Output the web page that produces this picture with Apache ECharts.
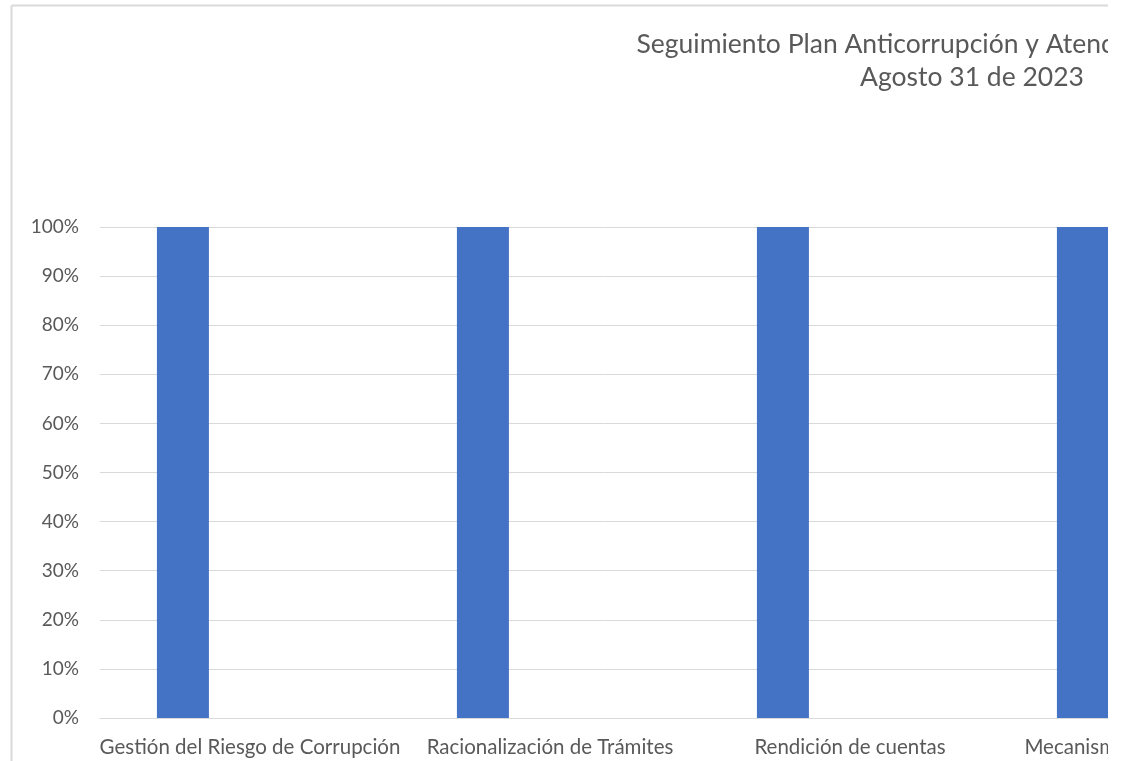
<!DOCTYPE html>
<html>
<head>
<meta charset="utf-8">
<script src="https://cdn.jsdelivr.net/npm/echarts@6/dist/echarts.min.js"></script>
<style>
html,body{margin:0;padding:0;background:#fff;}
#chart{position:absolute;left:0;top:0;width:1108px;height:761px;}
</style>
</head>
<body>
<div id="chart"></div>
<script>
const titleText = 'Seguimiento Plan Anticorrupción y Atención al Ciudadano\nAgosto 31 de 2023';
const categories = [
  'Gestión del Riesgo de Corrupción',
  'Racionalización de Trámites',
  'Rendición de cuentas',
  'Mecanismos para mejorar la\nAtención al Ciudadano'
];
const avance = [1, 1, 1, 1];
const otraSerie = [null, null, null, null];
const yTicks = [0, 0.1, 0.2, 0.3, 0.4, 0.5, 0.6, 0.7, 0.8, 0.9, 1];

const FONT = 'Lato';
const chart = echarts.init(document.getElementById('chart'), null, {renderer: 'canvas'});
chart.setOption({
  animation: false,
  backgroundColor: '#ffffff',
  title: {
    text: titleText,
    left: 967,
    top: 23,
    textAlign: 'center',
    textStyle: {fontFamily: FONT, fontSize: 26.5, fontWeight: 'normal', color: '#595959', lineHeight: 33}
  },
  graphic: [
    {type: 'line', shape: {x1: 11.5, y1: 5.5, x2: 11.5, y2: 761}, style: {stroke: '#d9d9d9', lineWidth: 2}},
    {type: 'line', shape: {x1: 11.5, y1: 5.5, x2: 1108, y2: 5.5}, style: {stroke: '#d9d9d9', lineWidth: 2}}
  ],
  grid: {left: 100, top: 227, width: 1200, height: 491, containLabel: false, outerBoundsMode: 'none'},
  xAxis: {
    type: 'category',
    data: categories,
    axisLine: {show: true, lineStyle: {color: '#d9d9d9', width: 1}},
    axisTick: {show: false},
    axisLabel: {fontFamily: FONT, fontSize: 20.5, color: '#595959', margin: 17, interval: 0, lineHeight: 25, hideOverlap: false}
  },
  yAxis: {
    type: 'value',
    min: 0, max: 1, interval: 0.1,
    axisLine: {show: false},
    axisTick: {show: false},
    splitLine: {lineStyle: {color: '#d9d9d9', width: 1}},
    axisLabel: {
      fontFamily: FONT, fontSize: 19, color: '#595959', margin: 21,
      formatter: v => {
        const t = yTicks.find(x => Math.abs(x - v) < 1e-9);
        return Math.round((t !== undefined ? t : v) * 100) + '%';
      }
    }
  },
  series: [
    {name: 'Avance', type: 'bar', data: avance, barWidth: 52, barGap: '158%', itemStyle: {color: '#4472C4'}},
    {name: 'Meta', type: 'bar', data: otraSerie, barWidth: 52, itemStyle: {color: '#ED7D31'}}
  ]
});
</script>
</body>
</html>
